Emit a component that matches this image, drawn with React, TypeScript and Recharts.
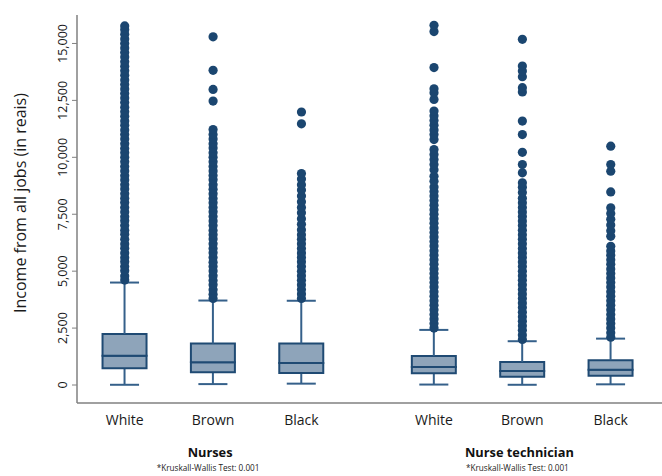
import React from 'react';
import { ComposedChart, Bar, Scatter, XAxis, YAxis } from 'recharts';

// categories (two occupation groups, three race groups each)
const races = ['White', 'Brown', 'Black', 'White', 'Brown', 'Black'];
const slots = [1, 2, 3, 4.5, 5.5, 6.5];
const groupTitles = ['Nurses', 'Nurse technician'];
const groupTests = ['*Kruskall-Wallis Test: 0.001', '*Kruskall-Wallis Test: 0.001'];
const groupCenters = [2, 5.5];

// box stats (reais)
const whiskerLow = [10, 40, 60, 20, 10, 30];
const q1 = [735, 560, 530, 515, 366, 410];
const median = [1290, 1000, 970, 790, 616, 673];
const q3 = [2245, 1820, 1820, 1276, 1012, 1087];
const whiskerHigh = [4500, 3710, 3700, 2420, 1923, 2037];

// outliers
const outNursesWhite = [
  4610, 4790, 5020, 5200, 5410, 5590, 5800, 6010, 6190, 6400, 6620, 6800, 7000, 7210, 7390, 7600,
  7800, 8010, 8200, 8400, 8610, 8800, 9000, 9190, 9400, 9600, 9810, 10000, 10200, 10390, 10600,
  10800, 11000, 11200, 11410, 11600, 11800, 12000, 12200, 12410, 12600, 12800, 13000, 13200, 13400,
  13600, 13800, 14000, 14200, 14400, 14600, 14800, 15000, 15200, 15400, 15600, 15770,
];
const outNursesBrown = [
  3800, 3990, 4180, 4400, 4590, 4800, 5010, 5200, 5390, 5600, 5810, 6000, 6200, 6410, 6600, 6790,
  7000, 7200, 7400, 7610, 7800, 8000, 8190, 8400, 8600, 8800, 9010, 9200, 9400, 9600, 9800, 10000,
  10200, 10410, 10600, 10800, 11000, 11220, 12470, 12980, 13820, 15290,
];
const outNursesBlack = [
  3800, 4000, 4190, 4400, 4600, 4800, 5000, 5200, 5410, 5600, 5800, 6000, 6200, 6400, 6600,
  6820, 7060, 7300, 7560, 7800, 8050, 8300, 8560, 8800, 9050, 9290, 11470, 11990,
];
const outTechWhite = [
  2500, 2700, 2900, 3100, 3300, 3500, 3700, 3900, 4100, 4300, 4500, 4700, 4900, 5100, 5300, 5500,
  5700, 5900, 6100, 6300, 6500, 6700, 6900, 7100, 7300, 7500, 7700, 7900, 8100, 8300, 8500, 8700,
  8950, 9170, 9450, 9680, 9900, 10120, 10340, 10780, 11000, 11200, 11410, 11620, 11830, 12030,
  12540, 12840, 13010, 13940, 15520, 15800,
];
const outTechBrown = [
  2000, 2200, 2400, 2600, 2800, 3000, 3200, 3400, 3600, 3800, 4000, 4200, 4400, 4600, 4800, 5000,
  5200, 5400, 5600, 5800, 6000, 6200, 6400, 6600, 6800, 7000, 7200, 7400, 7600, 7800, 8000, 8200,
  8450, 8680, 8880, 9320, 9680, 10220, 11000, 11590, 12870, 13060, 13540, 13790, 14010, 15180,
];
const outTechBlack = [
  2100, 2300, 2500, 2700, 2900, 3100, 3300, 3500, 3700, 3900, 4100, 4300, 4500, 4700, 4900, 5100,
  5300, 5500, 5700, 5890, 6090, 6530, 6780, 7030, 7280, 7530, 7780, 8480, 9390, 9680, 10490,
];
const outliers = [outNursesWhite, outNursesBrown, outNursesBlack, outTechWhite, outTechBrown, outTechBlack];

const yTicks = [0, 2500, 5000, 7500, 10000, 12500, 15000];

const boxRows = slots.map((x, i) => ({
  x,
  base: whiskerLow[i],
  lowW: q1[i] - whiskerLow[i],
  lowBox: median[i] - q1[i],
  highBox: q3[i] - median[i],
  highW: whiskerHigh[i] - q3[i],
}));

const outlierPoints = outliers.flatMap((vals, i) => vals.map((y) => ({ x: slots[i], y })));

const NAVY = '#1b4670';
const WHISK = '#35608a';
const FONT = '"Open Sans", sans-serif';

const LowWhisker = (p: any) => {
  const cx = p.x + p.width / 2;
  const yb = p.y + p.height;
  return (
    <g>
      <line x1={cx} x2={cx} y1={p.y} y2={yb} stroke={WHISK} strokeWidth={2} />
      <line x1={p.x + p.width * 0.17} x2={p.x + p.width * 0.83} y1={yb} y2={yb} stroke={WHISK} strokeWidth={2} />
    </g>
  );
};

const HighWhisker = (p: any) => {
  const cx = p.x + p.width / 2;
  return (
    <g>
      <line x1={cx} x2={cx} y1={p.y} y2={p.y + p.height} stroke={WHISK} strokeWidth={2} />
      <line x1={p.x + p.width * 0.17} x2={p.x + p.width * 0.83} y1={p.y} y2={p.y} stroke={WHISK} strokeWidth={2} />
    </g>
  );
};

const OutlierDot = (p: any) => <circle cx={p.cx} cy={p.cy} r={4.6} fill={NAVY} />;

const XTick = (p: any) => {
  const i = slots.indexOf(p.payload.value);
  const g = groupCenters.indexOf(p.payload.value);
  return (
    <g>
      <text x={p.x} y={p.y + 14} textAnchor="middle" fontSize={14} fontFamily={FONT} fill="#1a1a1a">
        {races[i]}
      </text>
      {g >= 0 && (
        <>
          <text x={p.x - 3} y={p.y + 46} textAnchor="middle" fontSize={12.8} fontWeight="bold" fontFamily={FONT} fill="#111">
            {groupTitles[g]}
          </text>
          <text x={p.x - 5} y={p.y + 60} textAnchor="middle" fontSize={8.2} fontFamily={FONT} fill="#222">
            {groupTests[g]}
          </text>
        </>
      )}
    </g>
  );
};

const YTick = (p: any) => {
  const bx = p.x - 3;
  return (
    <text x={bx} y={p.y} transform={`rotate(-90 ${bx} ${p.y})`} textAnchor="middle" fontSize={12.5} fontFamily={FONT} fill="#1a1a1a">
      {p.payload.value.toLocaleString('en-US')}
    </text>
  );
};

const YLabel = (p: any) => {
  const vb = p.viewBox || {};
  const cy = (vb.y ?? 15) + (vb.height ?? 388) / 2 - 6;
  return (
    <text x={0} y={0} transform={`translate(26 ${cy}) rotate(-90)`} textAnchor="middle" fontSize={16} fontFamily={FONT} fill="#1a1a1a">
      Income from all jobs (in reais)
    </text>
  );
};

export default function App() {
  return (
    <div style={{ position: 'absolute', left: 0, top: 0, background: '#fff', fontFamily: FONT }}>
      <ComposedChart width={662} height={476} data={boxRows} margin={{ top: 15, right: 0, bottom: 0, left: 0 }}>
        <XAxis
          dataKey="x"
          type="number"
          domain={[0.46, 7.08]}
          ticks={slots}
          interval={0}
          allowDataOverflow
          tickLine={false}
          tickSize={6}
          tickMargin={2}
          height={73}
          axisLine={{ stroke: '#808080', strokeWidth: 1.5 }}
          tick={<XTick />}
        />
        <YAxis
          type="number"
          domain={[-790, 16250]}
          ticks={yTicks}
          allowDataOverflow
          width={77}
          tickSize={5}
          tickMargin={2}
          axisLine={{ stroke: '#808080', strokeWidth: 1.5 }}
          tickLine={{ stroke: '#808080' }}
          tick={<YTick />}
          label={YLabel}
        />
        <Bar dataKey="base" stackId="box" barSize={44} fill="none" isAnimationActive={false} />
        <Bar dataKey="lowW" stackId="box" barSize={44} shape={LowWhisker} isAnimationActive={false} />
        <Bar dataKey="lowBox" stackId="box" barSize={44} fill="#8ea4ba" stroke="#1f4a73" strokeWidth={2} isAnimationActive={false} />
        <Bar dataKey="highBox" stackId="box" barSize={44} fill="#8ea4ba" stroke="#1f4a73" strokeWidth={2} isAnimationActive={false} />
        <Bar dataKey="highW" stackId="box" barSize={44} shape={HighWhisker} isAnimationActive={false} />
        <Scatter data={outlierPoints} dataKey="y" fill={NAVY} shape={OutlierDot} isAnimationActive={false} />
      </ComposedChart>
    </div>
  );
}
